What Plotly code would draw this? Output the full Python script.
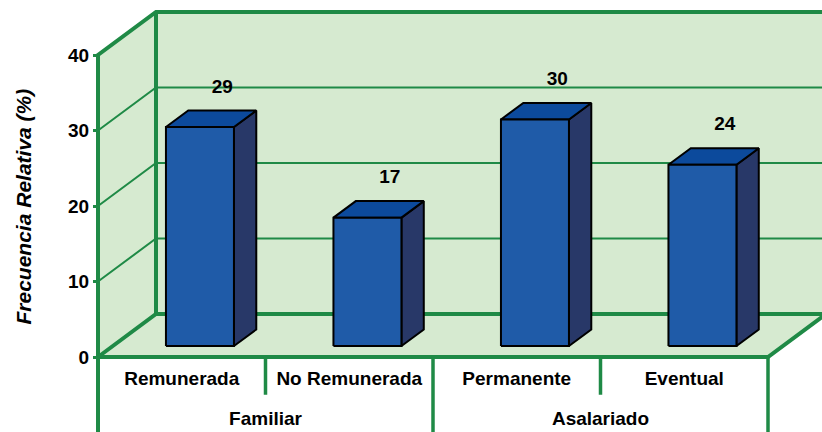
import plotly.graph_objects as go

# ---------------- data ----------------
categories = ["Remunerada", "No Remunerada", "Permanente", "Eventual"]
groups = ["Familiar", "Asalariado"]
group_span = [2, 2]
values = [29, 17, 30, 24]
y_ticks = [0, 10, 20, 30, 40]
y_title = "Frecuencia Relativa (%)"

# ---------------- geometry / style ----------------
W, H = 822, 432
ML = 90                 # left margin (px)
ORIGIN_X, ORIGIN_Y = 98, 357   # pixel position of the front-left corner (x=0, value=0)
PX_X = 167.5            # px per category slot
PX_Y = 7.55             # px per value unit
DX = 58 / PX_X          # depth offset in x units
DY = 43 / PX_Y          # depth offset in value units
YMAX = 40
N = len(categories)
BAR_A, BAR_W = 0.317, 0.406   # bar offset/width inside slot
D1, D2 = 0.256, 0.641         # bar front/back depth
SHORT = -5.0                  # length of short category separators
LABEL_GAP = 5.2

GREEN = "#1f8a46"
WALL = "#d6ead0"
FRONT = "#1f5ba8"
TOP = "#0c4a9c"
SIDE = "#283868"
FONT = "Liberation Sans, Arial, sans-serif"

xr0 = -(ORIGIN_X - ML) / PX_X
xr = [xr0, xr0 + (W - ML) / PX_X]
yr = [-(H - ORIGIN_Y) / PX_Y, ORIGIN_Y / PX_Y]


def proj(x, v, d):
    return x + d * DX, v + d * DY


def polys(list_of_pts, close=True):
    xs, ys = [], []
    for pts in list_of_pts:
        pp = [proj(*p) for p in pts]
        if close:
            pp = pp + [pp[0]]
        for px, py in pp:
            xs.append(px)
            ys.append(py)
        xs.append(None)
        ys.append(None)
    return xs, ys


fig = go.Figure()

# walls & floor
wx, wy = polys([
    [(0, 0, 1), (N + 0.5, 0, 1), (N + 0.5, YMAX, 1), (0, YMAX, 1)],   # back wall
    [(0, 0, 0), (0, 0, 1), (0, YMAX, 1), (0, YMAX, 0)],               # side wall
    [(0, 0, 0), (N, 0, 0), (N, 0, 1), (0, 0, 1)],                     # floor
])
fig.add_trace(go.Scatter(x=wx, y=wy, mode="lines", fill="toself", fillcolor=WALL,
                         line=dict(width=0), hoverinfo="skip", showlegend=False))

# thin gridlines
gpts = []
for t in y_ticks[1:-1]:
    gpts.append([(0, t, 0), (0, t, 1), (N + 0.5, t, 1)])
gx, gy = polys(gpts, close=False)
fig.add_trace(go.Scatter(x=gx, y=gy, mode="lines", line=dict(color=GREEN, width=2),
                         hoverinfo="skip", showlegend=False))

# thick frame lines
fpts = [
    [(0, yr[0] - 1, 0), (0, YMAX, 0), (0, YMAX, 1), (N + 0.5, YMAX, 1)],
    [(0, 0, 1), (0, YMAX, 1)],
    [(0, 0, 0), (0, 0, 1), (N + 0.5, 0, 1)],
    [(0, 0, 0), (N, 0, 0), (N, 0, 1)],
]
fx, fy = polys(fpts, close=False)
fig.add_trace(go.Scatter(x=fx, y=fy, mode="lines", line=dict(color=GREEN, width=4),
                         hoverinfo="skip", showlegend=False))

# category separators
spts = []
for k in range(1, N + 1):
    bottom = yr[0] - 1 if k % 2 == 0 else SHORT
    spts.append([(k, 0, 0), (k, bottom, 0)])
sx, sy = polys(spts, close=False)
fig.add_trace(go.Scatter(x=sx, y=sy, mode="lines", line=dict(color=GREEN, width=3.5),
                         hoverinfo="skip", showlegend=False))

# bars
fronts, tops, sides = [], [], []
for i, v in enumerate(values):
    l, r = i + BAR_A, i + BAR_A + BAR_W
    fronts.append([(l, 0, D1), (r, 0, D1), (r, v, D1), (l, v, D1)])
    tops.append([(l, v, D1), (r, v, D1), (r, v, D2), (l, v, D2)])
    sides.append([(r, 0, D1), (r, 0, D2), (r, v, D2), (r, v, D1)])
for pts, col in [(sides, SIDE), (tops, TOP), (fronts, FRONT)]:
    bx, by = polys(pts)
    fig.add_trace(go.Scatter(x=bx, y=by, mode="lines", fill="toself", fillcolor=col,
                             line=dict(color="black", width=2), hoverinfo="skip",
                             showlegend=False))

# value labels
lx = [i + BAR_A + BAR_W / 2 + D2 * DX for i in range(N)]
ly = [v + D1 * DY + LABEL_GAP for v in values]
fig.add_trace(go.Scatter(x=lx, y=ly, mode="text", text=[str(v) for v in values],
                         textfont=dict(family=FONT, size=19, color="black", weight="bold"),
                         hoverinfo="skip", showlegend=False, cliponaxis=False))

# category labels
fig.add_trace(go.Scatter(x=[i + 0.5 for i in range(N)], y=[-3.05] * N, mode="text",
                         text=categories,
                         textfont=dict(family=FONT, size=19, color="black", weight="bold"),
                         hoverinfo="skip", showlegend=False, cliponaxis=False))
gxs, start = [], 0
for s in group_span:
    gxs.append(start + s / 2)
    start += s
fig.add_trace(go.Scatter(x=gxs, y=[-8.35] * len(groups), mode="text", text=groups,
                         textfont=dict(family=FONT, size=19, color="black", weight="bold"),
                         hoverinfo="skip", showlegend=False, cliponaxis=False))

fig.update_layout(
    width=W, height=H,
    margin=dict(l=ML, r=0, t=0, b=0),
    paper_bgcolor="white", plot_bgcolor="white",
    xaxis=dict(range=xr, visible=False, fixedrange=True),
    yaxis=dict(range=yr, tickvals=y_ticks, ticks="outside", ticklen=5, tickwidth=3,
               tickcolor=GREEN, showgrid=False, zeroline=False, showline=False,
               anchor="free", position=(ORIGIN_X - ML) / (W - ML),
               tickfont=dict(family=FONT, size=19, color="black", weight="bold"),
               fixedrange=True),
    annotations=[dict(text=y_title, textangle=-90, xref="paper", yref="paper",
                      x=(23 - ML) / (W - ML), y=1 - 206.5 / H, showarrow=False,
                      xanchor="center", yanchor="middle",
                      font=dict(family=FONT, size=21, color="black", weight="bold",
                                style="italic"))],
)

fig.write_html("out.html", config={"displayModeBar": False},
               post_script="document.body.style.margin='0';document.body.style.overflow='hidden';")
